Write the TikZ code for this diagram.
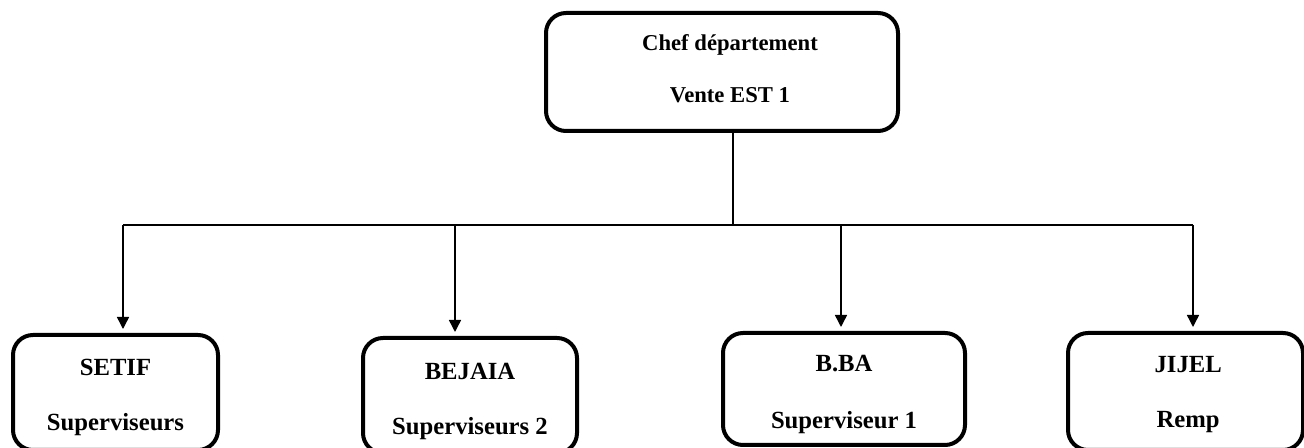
\documentclass[tikz,border=0pt]{standalone}
\usepackage{fontspec}
\setmainfont{Liberation Serif}
\usetikzlibrary{arrows.meta}
\begin{document}
\begin{tikzpicture}[x=0.75pt,y=-0.75pt,
  unitbox/.style={draw=black, line width=3pt, rounded corners=15pt, inner sep=0pt},
  unittext/.style={align=center, inner sep=0pt,
    font=\bfseries\fontsize{18.5}{41}\selectfont},
  headtext/.style={unittext, font=\bfseries\fontsize{17}{39}\selectfont},
  link/.style={line width=1.1pt},
  arrowlink/.style={link, -{Triangle[width=9pt,length=9pt]}, shorten >=3pt}]
  \useasboundingbox (0,0) rectangle (1304,448);
  \clip (0,0) rectangle (1304,448);

  % head of the department
  \node[unitbox, minimum width=264pt, minimum height=88.5pt,
        label={[headtext, xshift=6pt, yshift=2.25pt]center:{Chef département\\Vente EST 1}}]
    (chef) at (722,72) {};

  % regional units
  \node[unitbox, minimum width=153.75pt, minimum height=86.25pt,
        label={[unittext, yshift=-3.75pt]center:{SETIF\\Superviseurs}}]
    (setif) at (115.5,392.5) {};
  \node[unitbox, minimum width=160.5pt, minimum height=86.25pt,
        label={[unittext, yshift=-4.5pt]center:{BEJAIA\\Superviseurs 2}}]
    (bejaia) at (470,395.5) {};
  \node[unitbox, minimum width=181.5pt, minimum height=84pt,
        label={[unittext, yshift=-4pt, font=\bfseries\fontsize{18.5}{43}\selectfont]center:{B.BA\\Superviseur 1}}]
    (bba) at (844,389) {};
  \node[unitbox, minimum width=176.25pt, minimum height=87.75pt,
        label={[unittext, yshift=-2.25pt, xshift=2pt]center:{JIJEL\\Remp}}]
    (jijel) at (1185.5,391.5) {};

  % branch points on the distribution bar
  \coordinate (trunk) at (733,225);
  \coordinate (b1) at (123,225);
  \coordinate (b2) at (455,225);
  \coordinate (b3) at (841,225);
  \coordinate (b4) at (1193,225);

  \draw[link] (chef.south -| trunk) -- (trunk);
  \draw[link] (b1) -- (b4);
  \draw[arrowlink] (b1) -- (b1 |- setif.north);
  \draw[arrowlink] (b2) -- (b2 |- bejaia.north);
  \draw[arrowlink] (b3) -- (b3 |- bba.north);
  \draw[arrowlink] (b4) -- (b4 |- jijel.north);
\end{tikzpicture}
\end{document}
